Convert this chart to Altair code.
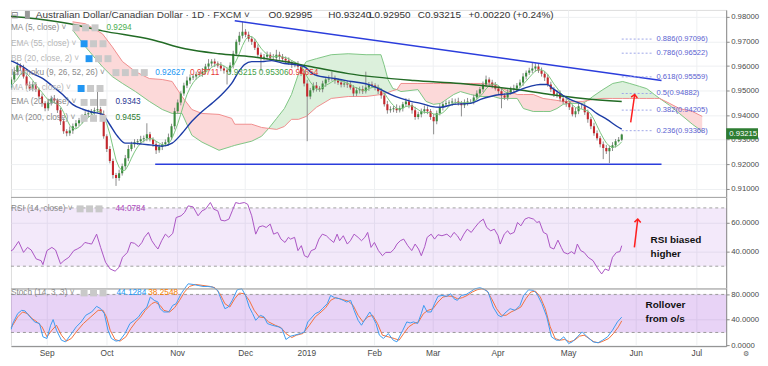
import altair as alt
import pandas as pd

# ------------------------------------------------------------------ data
close = [
    0.9497, 0.9513, 0.9545, 0.9577, 0.9602, 0.9594, 0.9557, 0.9521, 0.9509, 0.9525,
    0.9505, 0.9476, 0.9448, 0.9428, 0.9452, 0.9468, 0.9460, 0.9420, 0.9375, 0.9334,
    0.9326, 0.9338, 0.9355, 0.9367, 0.9379, 0.9395, 0.9404, 0.9408, 0.9416, 0.9420,
    0.9424, 0.9404, 0.9314, 0.9262, 0.9213, 0.9156, 0.9144, 0.9164, 0.9192, 0.9225,
    0.9262, 0.9282, 0.9290, 0.9294, 0.9302, 0.9306, 0.9322, 0.9302, 0.9282, 0.9257,
    0.9270, 0.9282, 0.9290, 0.9310, 0.9355, 0.9416, 0.9452, 0.9488, 0.9521, 0.9541,
    0.9553, 0.9557, 0.9565, 0.9569, 0.9577, 0.9598, 0.9610, 0.9618, 0.9610, 0.9602,
    0.9590, 0.9582, 0.9577, 0.9602, 0.9650, 0.9699, 0.9723, 0.9739, 0.9727, 0.9711,
    0.9699, 0.9674, 0.9646, 0.9634, 0.9638, 0.9646, 0.9634, 0.9634, 0.9646, 0.9638,
    0.9630, 0.9622, 0.9614, 0.9606, 0.9606, 0.9598, 0.9569, 0.9529, 0.9476, 0.9501,
    0.9521, 0.9509, 0.9505, 0.9529, 0.9545, 0.9549, 0.9549, 0.9541, 0.9533, 0.9525,
    0.9529, 0.9525, 0.9513, 0.9488, 0.9501, 0.9505, 0.9497, 0.9513, 0.9525, 0.9521,
    0.9513, 0.9497, 0.9480, 0.9444, 0.9420, 0.9424, 0.9428, 0.9420, 0.9428, 0.9444,
    0.9456, 0.9440, 0.9420, 0.9392, 0.9404, 0.9416, 0.9424, 0.9416, 0.9392, 0.9375,
    0.9408, 0.9432, 0.9444, 0.9448, 0.9452, 0.9456, 0.9456, 0.9448, 0.9440, 0.9452,
    0.9456, 0.9456, 0.9472, 0.9488, 0.9505, 0.9525, 0.9545, 0.9533, 0.9521, 0.9509,
    0.9497, 0.9480, 0.9472, 0.9492, 0.9505, 0.9509, 0.9521, 0.9533, 0.9557, 0.9573,
    0.9582, 0.9590, 0.9598, 0.9582, 0.9569, 0.9553, 0.9525, 0.9505, 0.9484, 0.9488,
    0.9468, 0.9456, 0.9448, 0.9432, 0.9404, 0.9416, 0.9436, 0.9436, 0.9412, 0.9383,
    0.9355, 0.9326, 0.9306, 0.9282, 0.9266, 0.9253, 0.9266, 0.9278, 0.9294, 0.9300,
    0.93215]

# wick lengths in pips (0.0001)
up_wick = [
    12, 15, 10, 18, 14, 9, 11, 8, 16, 13, 10, 7, 12, 9, 15, 11, 14, 8, 10, 12,
    9, 16, 11, 13, 10, 8, 12, 14, 9, 11, 73, 10, 15, 8, 12, 10, 9, 14, 11, 13,
    16, 10, 12, 9, 14, 11, 45, 10, 8, 13, 12, 9, 11, 15, 10, 14, 12, 9, 11, 16,
    13, 10, 12, 9, 15, 11, 18, 10, 12, 9, 14, 11, 10, 13, 12, 9, 16, 40, 11, 13,
    10, 12, 14, 9, 11, 13, 10, 15, 20, 12, 11, 9, 13, 10, 12, 14, 9, 11, 15, 10,
    12, 14, 9, 11, 10, 13, 28, 12, 9, 11, 14, 10, 12, 9, 13, 11, 15, 64, 10, 12,
    9, 11, 13, 10, 14, 12, 9, 16, 11, 10, 13, 12, 9, 14, 10, 11, 15, 12, 9, 13,
    11, 14, 10, 12, 9, 13, 11, 15, 10, 12, 14, 9, 11, 13, 10, 12, 16, 9, 11, 14,
    10, 12, 9, 13, 11, 15, 10, 12, 14, 9, 11, 24, 13, 10, 12, 9, 14, 11, 10, 13,
    12, 9, 15, 11, 10, 14, 12, 9, 13, 11, 10, 14, 12, 9, 11, 13, 10, 12, 9, 11,
    3]
dn_wick = [
    10, 13, 9, 11, 15, 12, 8, 14, 10, 12, 11, 9, 14, 12, 10, 13, 9, 11, 15, 10,
    12, 10, 14, 9, 11, 13, 10, 12, 9, 14, 11, 13, 10, 12, 9, 14, 32, 11, 10, 13,
    12, 9, 14, 11, 10, 13, 12, 9, 11, 15, 10, 12, 9, 14, 11, 13, 10, 12, 9, 11,
    14, 10, 12, 9, 13, 11, 10, 12, 14, 9, 11, 13, 52, 10, 12, 9, 14, 11, 10, 12,
    13, 9, 11, 55, 10, 12, 14, 9, 11, 13, 10, 12, 9, 14, 11, 13, 10, 12, 182, 11,
    9, 13, 10, 12, 14, 11, 9, 13, 10, 12, 11, 14, 9, 12, 10, 13, 11, 9, 14, 10,
    12, 11, 13, 9, 14, 10, 12, 11, 9, 13, 10, 12, 14, 11, 9, 13, 10, 12, 11, 53,
    12, 9, 13, 10, 11, 14, 12, 9, 45, 11, 13, 10, 12, 9, 14, 11, 10, 13, 12, 9,
    11, 52, 10, 12, 9, 13, 11, 10, 14, 12, 9, 11, 13, 10, 12, 14, 9, 11, 10, 13,
    12, 10, 14, 11, 9, 13, 12, 10, 11, 14, 12, 10, 9, 13, 45, 11, 48, 12, 10, 5,
    5]

# (bar index, value)
ema20 = [(0, 0.9630), (2.6, 0.9618), (5.8, 0.9597), (9.0, 0.9569), (12.3, 0.9549), (15.5, 0.9517),
         (18.7, 0.9484), (21.9, 0.9444), (25.2, 0.9424), (28.4, 0.9412), (31.6, 0.9403), (33.9, 0.9363),
         (36.5, 0.9314), (39.0, 0.9286), (41.3, 0.9286), (44.5, 0.9282), (47.7, 0.9278), (51.0, 0.9274),
         (54.2, 0.9286), (57.4, 0.9326), (60.6, 0.9375), (63.9, 0.9415), (67.1, 0.9448), (70.3, 0.9484),
         (73.5, 0.9529), (75.8, 0.9577), (77.7, 0.9606), (80.0, 0.9618), (83.2, 0.9618), (86.5, 0.9622),
         (90.6, 0.9610), (93.9, 0.9606), (97.1, 0.9597), (100.3, 0.9565), (106.8, 0.9549), (112.3, 0.9537),
         (117.7, 0.9525), (121.9, 0.9504), (125.2, 0.9484), (128.4, 0.9468), (131.6, 0.9456), (134.8, 0.9448),
         (138.1, 0.9436), (141.3, 0.9432), (145.5, 0.9444), (151.0, 0.9448), (154.2, 0.9464), (157.4, 0.9476),
         (160.6, 0.9484), (163.9, 0.9488), (167.1, 0.9504), (170.3, 0.9517), (173.5, 0.9525), (175.8, 0.9525),
         (177.7, 0.9508), (180.0, 0.9488), (183.2, 0.9464), (186.5, 0.9448), (189.7, 0.9428), (191.9, 0.9407),
         (195.2, 0.9383), (198.4, 0.9355), (200.0, 0.9343)]

ma200 = [(0, 0.9804), (10.0, 0.9792), (21.0, 0.9772), (31.6, 0.9743), (47.7, 0.9707), (58.4, 0.9670),
         (69.4, 0.9650), (80.0, 0.9638), (90.6, 0.9618), (99.4, 0.9597), (111.3, 0.9569), (132.6, 0.9541),
         (147.7, 0.9529), (166.1, 0.9504), (176.8, 0.9484), (187.4, 0.9468), (200.0, 0.9456)]

# Ichimoku cloud: (bar index, leading span A, leading span B)
cloud = [(21.9, 0.9747, 0.9780), (26.1, 0.9678, 0.9772), (31.6, 0.9597, 0.9731), (34.8, 0.9557, 0.9678),
         (38.1, 0.9529, 0.9618), (42.3, 0.9496, 0.9577), (46.8, 0.9456, 0.9549), (51.0, 0.9423, 0.9545),
         (54.2, 0.9407, 0.9537), (57.4, 0.9407, 0.9476), (60.6, 0.9318, 0.9423), (63.9, 0.9290, 0.9407),
         (69.4, 0.9257, 0.9403), (73.5, 0.9273, 0.9387), (74.5, 0.9277, 0.9363), (80.0, 0.9294, 0.9363),
         (83.2, 0.9314, 0.9350), (85.5, 0.9346, 0.9346), (88.1, 0.9387, 0.9342), (90.6, 0.9427, 0.9354),
         (92.9, 0.9484, 0.9383), (95.2, 0.9569, 0.9383), (97.7, 0.9618, 0.9395), (101.0, 0.9630, 0.9432),
         (105.8, 0.9646, 0.9468), (111.3, 0.9650, 0.9476), (117.1, 0.9646, 0.9476), (121.9, 0.9646, 0.9484),
         (122.9, 0.9606, 0.9488), (124.2, 0.9545, 0.9492), (125.8, 0.9508, 0.9500), (127.1, 0.9504, 0.9504),
         (128.4, 0.9496, 0.9529), (133.9, 0.9504, 0.9529), (136.5, 0.9456, 0.9529), (139.0, 0.9444, 0.9529),
         (141.3, 0.9448, 0.9529), (145.5, 0.9484, 0.9529), (147.7, 0.9496, 0.9529), (151.0, 0.9484, 0.9529),
         (154.2, 0.9476, 0.9529), (158.4, 0.9476, 0.9525), (160.6, 0.9468, 0.9512), (166.1, 0.9468, 0.9484),
         (168.1, 0.9427, 0.9484), (171.3, 0.9415, 0.9484), (174.5, 0.9415, 0.9468), (176.8, 0.9415, 0.9464),
         (179.0, 0.9427, 0.9460), (181.0, 0.9444, 0.9456), (183.2, 0.9448, 0.9456), (187.4, 0.9448, 0.9456),
         (189.0, 0.9460, 0.9460), (190.6, 0.9476, 0.9464), (193.9, 0.9504, 0.9468), (197.1, 0.9529, 0.9468),
         (200.3, 0.9537, 0.9468), (202.6, 0.9529, 0.9468), (205.8, 0.9517, 0.9468), (208.1, 0.9508, 0.9468),
         (210.6, 0.9484, 0.9468), (212.3, 0.9468, 0.9468), (215.5, 0.9440, 0.9448), (218.7, 0.9407, 0.9427),
         (222.9, 0.9363, 0.9415), (226.1, 0.9334, 0.9395)]

rsi = [(0, 30.4), (1.0, 39.5), (2.5, 41.1), (4.4, 47.0), (6.0, 39.5), (7.3, 42.9), (8.5, 41.1), (10.1, 35.0),
       (11.7, 33.8), (12.3, 31.1), (13.6, 40.7), (15.2, 42.9), (16.4, 41.1), (18.0, 31.6), (19.1, 33.8),
       (20.7, 36.1), (22.3, 40.7), (23.4, 41.8), (24.7, 43.4), (25.9, 46.3), (27.0, 45.7), (28.1, 45.2),
       (29.7, 52.0), (31.0, 42.9), (32.6, 32.7), (34.1, 28.1), (35.7, 26.6), (37.0, 29.3), (38.1, 36.1),
       (39.7, 39.5), (40.8, 46.3), (42.0, 45.7), (43.3, 43.4), (44.4, 46.3), (45.2, 49.8), (46.5, 53.2),
       (47.6, 47.5), (48.7, 44.1), (49.6, 41.8), (50.8, 47.5), (52.0, 52.0), (53.1, 49.8), (54.4, 52.5),
       (55.5, 63.4), (57.1, 64.6), (58.2, 66.8), (59.4, 71.4), (61.0, 70.7), (62.6, 64.6), (63.9, 68.0),
       (65.0, 69.1), (66.6, 73.7), (67.7, 69.1), (69.0, 68.0), (70.0, 61.6), (71.3, 61.1), (72.6, 62.3),
       (73.7, 68.0), (74.8, 73.7), (76.0, 73.0), (77.6, 73.7), (78.7, 72.5), (80.0, 64.6), (81.3, 52.0),
       (82.4, 57.0), (83.6, 57.7), (84.7, 56.6), (86.0, 58.9), (87.1, 52.0), (88.4, 53.2), (89.5, 48.6),
       (90.8, 46.3), (91.9, 49.8), (92.6, 48.6), (93.9, 49.8), (95.0, 40.7), (96.1, 44.1), (97.1, 37.2),
       (98.2, 36.1), (99.3, 40.7), (100.6, 41.8), (101.8, 48.6), (102.9, 52.0), (104.2, 50.9), (105.3, 48.6),
       (106.6, 46.3), (107.7, 52.0), (108.5, 47.5), (109.7, 50.9), (111.0, 45.2), (112.0, 47.5), (113.2, 52.0),
       (114.5, 49.8), (115.6, 47.5), (116.7, 49.8), (117.6, 53.2), (118.7, 42.9), (119.8, 46.3), (121.1, 40.7),
       (122.4, 37.2), (123.5, 39.5), (125.1, 39.5), (126.2, 41.8), (127.1, 45.2), (128.2, 47.5), (129.3, 48.6),
       (130.6, 44.1), (131.9, 40.7), (133.0, 45.2), (134.1, 41.8), (135.0, 37.2), (136.1, 43.4), (136.9, 49.8),
       (138.2, 52.0), (139.3, 48.6), (140.4, 51.6), (141.7, 50.9), (143.3, 52.0), (144.5, 49.8), (145.6, 53.2),
       (146.7, 50.9), (147.7, 47.5), (148.8, 52.0), (149.9, 55.4), (151.2, 53.2), (152.4, 56.6), (153.7, 60.0),
       (155.1, 62.3), (156.2, 56.6), (157.5, 54.3), (158.7, 55.4), (159.9, 50.9), (160.6, 45.2), (161.9, 52.0),
       (163.0, 54.3), (163.8, 52.0), (165.1, 53.2), (166.2, 60.0), (167.3, 57.7), (168.6, 62.3), (169.8, 63.4),
       (171.4, 62.3), (172.5, 60.0), (173.3, 60.7), (174.6, 53.2), (175.7, 52.0), (176.8, 42.9), (178.0, 41.8),
       (179.3, 47.9), (180.4, 42.9), (181.2, 39.5), (182.5, 38.4), (183.7, 40.0), (184.7, 38.4), (185.6, 45.2),
       (186.7, 40.7), (187.8, 39.5), (189.1, 36.1), (190.7, 33.8), (192.3, 28.1), (193.5, 24.7), (194.6, 28.1),
       (195.8, 27.0), (197.0, 36.1), (198.3, 39.5), (199.4, 40.0), (200.0, 44.08)]

stoch_k = [(2.0, 25.0), (2.5, 34.0), (4.1, 49.7), (5.4, 54.9), (6.5, 53.9), (8.1, 44.5), (9.6, 36.6),
           (11.2, 34.0), (12.3, 13.1), (13.6, 10.5), (14.8, 31.4), (15.6, 40.3), (16.7, 23.5), (18.3, 7.8),
           (19.6, 5.2), (21.2, 15.7), (23.1, 28.8), (24.7, 36.6), (26.2, 47.1), (28.1, 52.3), (29.7, 61.2),
           (31.0, 57.5), (32.2, 49.7), (33.4, 23.5), (34.5, 10.5), (36.0, 6.3), (37.3, 7.8), (38.9, 18.3),
           (40.5, 34.0), (42.0, 39.2), (43.3, 44.5), (44.4, 52.3), (46.0, 60.1), (47.1, 75.8), (48.4, 70.6),
           (49.6, 68.0), (50.3, 57.5), (51.5, 52.3), (53.1, 52.3), (54.4, 62.7), (55.5, 65.4), (57.1, 81.0),
           (58.2, 88.9), (59.4, 96.7), (61.0, 95.7), (62.6, 94.1), (64.2, 92.5), (65.8, 92.5), (67.4, 91.5),
           (69.0, 86.3), (70.2, 70.6), (71.3, 57.5), (72.4, 60.1), (73.7, 70.6), (75.3, 87.3), (76.8, 88.9),
           (78.0, 78.4), (79.2, 60.1), (80.3, 49.7), (81.3, 39.2), (82.8, 47.1), (84.0, 44.5), (85.1, 34.0),
           (86.6, 31.4), (88.7, 28.8), (89.8, 26.1), (91.1, 8.9), (92.6, 14.1), (93.9, 15.7), (95.8, 18.3),
           (97.1, 20.9), (98.2, 36.6), (100.6, 49.7), (101.8, 52.3), (102.9, 57.5), (104.5, 65.4), (105.6, 78.4),
           (106.9, 74.8), (108.5, 73.2), (109.7, 70.6), (110.8, 68.0), (112.1, 70.6), (113.2, 54.9), (114.5, 39.2),
           (115.6, 31.4), (116.7, 40.3), (118.3, 52.3), (119.5, 41.8), (120.3, 34.0), (121.4, 15.7), (122.7, 10.5),
           (124.3, 18.3), (125.9, 7.8), (127.1, 5.2), (129.0, 23.5), (130.3, 36.6), (131.4, 35.0), (132.5, 36.6),
           (133.8, 34.0), (135.0, 49.7), (135.8, 62.7), (136.9, 52.3), (138.2, 52.3), (139.3, 65.4), (140.4, 76.9),
           (141.7, 78.4), (143.3, 76.9), (144.5, 81.0), (145.6, 73.2), (146.7, 70.6), (148.0, 78.4), (149.6, 80.0),
           (150.8, 83.7), (152.4, 88.9), (154.0, 90.5), (155.1, 88.9), (156.7, 83.7), (158.3, 60.1), (159.9, 47.1),
           (161.0, 44.5), (162.5, 52.3), (163.8, 57.5), (165.4, 54.9), (167.0, 62.7), (168.2, 78.4), (169.8, 87.3),
           (171.4, 86.3), (172.5, 81.0), (174.1, 65.4), (175.7, 44.5), (177.2, 13.1), (178.8, 7.8), (179.9, 7.8),
           (181.2, 13.1), (182.8, 2.6), (184.0, 5.2), (185.6, 13.1), (187.2, 20.9), (188.8, 13.1), (190.7, 5.2),
           (192.3, 3.7), (193.8, 7.8), (195.4, 13.1), (197.0, 23.5), (198.6, 36.6), (200.0, 44.13)]

stoch_d = [(2.0, 28.0), (2.5, 31.4), (4.1, 44.5), (5.7, 52.3), (7.3, 49.7), (8.8, 41.8), (10.4, 36.6),
           (12.0, 28.8), (13.6, 13.1), (15.2, 23.5), (16.7, 31.4), (18.3, 15.7), (19.9, 6.3), (21.5, 10.5),
           (23.1, 20.9), (25.4, 34.0), (27.8, 44.5), (30.2, 54.9), (31.8, 54.9), (32.9, 44.5), (34.1, 23.5),
           (35.7, 8.9), (37.3, 6.3), (39.2, 13.1), (40.8, 26.1), (42.4, 36.6), (44.0, 44.5), (45.5, 54.9),
           (47.6, 65.4), (48.7, 68.0), (50.3, 62.7), (51.5, 54.9), (53.4, 52.3), (55.0, 59.1), (56.6, 70.6),
           (58.2, 83.7), (59.8, 92.5), (61.8, 95.7), (64.2, 94.1), (66.6, 92.5), (68.1, 90.5), (69.7, 81.0),
           (71.3, 65.4), (72.9, 60.1), (74.5, 73.2), (76.0, 82.1), (77.6, 81.0), (79.2, 70.6), (80.8, 54.9),
           (82.4, 44.5), (84.0, 43.4), (85.5, 36.6), (87.6, 31.4), (89.5, 27.7), (91.1, 18.3), (93.0, 12.0),
           (94.5, 15.7), (96.6, 18.3), (98.7, 31.4), (100.6, 44.5), (102.5, 52.3), (104.0, 59.1), (105.6, 70.6),
           (107.2, 74.8), (109.3, 72.2), (111.3, 69.5), (112.9, 62.7), (114.5, 47.1), (116.1, 36.6), (117.6, 44.5),
           (119.2, 47.1), (120.8, 34.0), (122.4, 15.7), (124.3, 13.1), (126.2, 10.5), (127.8, 7.8), (129.3, 18.3),
           (130.9, 28.8), (132.5, 34.0), (134.1, 36.6), (135.7, 49.7), (137.2, 54.9), (138.8, 57.5), (140.4, 68.0),
           (142.0, 75.8), (143.6, 77.4), (145.2, 76.9), (146.7, 73.2), (148.3, 74.8), (149.9, 78.4), (151.5, 83.7),
           (153.1, 87.3), (154.6, 88.9), (156.2, 86.3), (157.8, 73.2), (159.4, 57.5), (161.0, 47.1), (162.5, 47.1),
           (164.1, 52.3), (165.7, 55.9), (167.3, 60.1), (168.9, 73.2), (170.5, 83.7), (172.0, 85.2), (173.6, 75.8),
           (175.2, 57.5), (176.8, 28.8), (178.4, 10.5), (179.9, 7.8), (181.5, 8.9), (183.1, 5.2), (184.7, 7.8),
           (186.3, 14.1), (187.8, 15.7), (189.4, 10.5), (191.0, 5.2), (192.6, 3.7), (194.2, 6.8), (195.8, 10.5),
           (197.3, 18.3), (198.9, 28.8), (200.0, 38.25)]

month_pos = [13.5, 32.9, 55.8, 77.9, 97.7, 119.7, 138.7, 159.7, 182.6, 204.5, 224.2]
month_lab = ["Sep", "Oct", "Nov", "Dec", "2019", "Feb", "Mar", "Apr", "May", "Jun", "Jul"]
price_ticks = [0.91, 0.92, 0.93, 0.94, 0.95, 0.96, 0.97, 0.98]

fib_ratio = ["0.886", "0.786", "0.618", "0.5", "0.382", "0.236"]
fib_price = [0.97096, 0.96522, 0.95559, 0.94882, 0.94205, 0.93368]
fib_from, fib_to = 200.0, 210.0

trend_lines = [("res", 74.5, 0.9784), ("res", 212.9, 0.9541), ("sup", 48.7, 0.9200), ("sup", 212.9, 0.9200)]
arrow_main = [(202.9, 0.93707), (204.2, 0.94840)]
arrow_rsi = [(204.1, 42.9), (205.2, 62.3)]
last_close = 0.93215

# ------------------------------------------------------------------ style
W = 719
H_MAIN, H_RSI, H_STO = 188, 92, 58
FONT = "Liberation Sans"
GRID = "#eef0f2"
AXC = "#8a8a8a"
TXT = "#4a4a4a"
UP, DOWN, WICK = "#3b8a3e", "#c4272d", "#8c8c8c"
BLUE = "#2b3ddc"
RED = "#ff1f1f"
AXFS = 7.8

xscale = alt.Scale(domain=[1.935, 233.87], nice=False, zero=False)
DUMMY = pd.DataFrame({"d": [0]})

expr = "''"
for pos, lab in zip(reversed(month_pos), reversed(month_lab)):
    expr = f"abs(datum.value - {pos}) < 0.01 ? '{lab}' : ({expr})"


def xaxis(labels):
    if labels:
        return alt.Axis(values=month_pos, labelExpr=expr, grid=True, gridColor=GRID, ticks=False,
                        domain=True, domainColor=AXC, labelFont=FONT, labelFontSize=8.4,
                        labelColor=TXT, labelPadding=2, labelFlush=False, labelOverlap=False, title=None)
    return alt.Axis(values=month_pos, labels=False, ticks=False, domain=False, grid=True,
                    gridColor=GRID, title=None)


def yaxis(values, fmt):
    return alt.Axis(orient="right", values=values, format=fmt, grid=True, gridColor=GRID, ticks=True,
                    tickSize=3, tickColor=AXC, domain=True, domainColor=AXC, labelFont=FONT,
                    labelFontSize=AXFS, labelColor=TXT, labelPadding=1.5, title=None,
                    labelOverlap=False, labelFlush=False)


def X(f, xa):
    return alt.X(f, type="quantitative", scale=xscale, axis=xa)


def Y(f, ys, ya):
    return alt.Y(f, type="quantitative", scale=ys, axis=ya)


def txt(x, y, s, size=8.3, color="#8a8a8a", weight="normal", align="left"):
    return alt.Chart(DUMMY).mark_text(text=s, align=align, baseline="middle", fontSize=size,
                                      color=color, fontWeight=weight, font=FONT).encode(
        x=alt.value(x), y=alt.value(y))


def rect(x0, x1, y0, y1, color):
    return alt.Chart(DUMMY).mark_rect(color=color).encode(
        x=alt.value(x0), x2=alt.value(x1), y=alt.value(y0), y2=alt.value(y1))


def hrule(y, color):
    return alt.Chart(DUMMY).mark_rule(color=color, strokeWidth=1).encode(
        x=alt.value(0), x2=alt.value(W), y=alt.value(y))


def icons(x0, y, n, hidden=False):
    out = []
    for k in range(n):
        c = "#2196f3" if (hidden and k == 0) else "#c9c9c9"
        out.append(rect(x0 + k * 9.5, x0 + k * 9.5 + 7, y - 3.5, y + 3.5, c))
    return out


# ------------------------------------------------------------------ tables
opens = [close[0]] + close[:-1]
cdf = pd.DataFrame({
    "i": list(range(len(close))),
    "open": opens,
    "close": close,
    "high": [max(o, c) + u * 1e-4 for o, c, u in zip(opens, close, up_wick)],
    "low": [min(o, c) - d * 1e-4 for o, c, d in zip(opens, close, dn_wick)],
})
cdf["dir"] = ["up" if c >= o else "down" for o, c in zip(cdf["open"], cdf["close"])]

cloud_df = pd.DataFrame(cloud, columns=["i", "a", "b"])
fill_rows, g, cur = [], -1, None
for k in range(len(cloud) - 1):
    kind = "bull" if cloud[k][1] + cloud[k + 1][1] >= cloud[k][2] + cloud[k + 1][2] else "bear"
    if kind != cur:
        g += 1
        cur = kind
        fill_rows.append(dict(g=g, kind=kind, i=cloud[k][0], a=cloud[k][1], b=cloud[k][2]))
    fill_rows.append(dict(g=g, kind=kind, i=cloud[k + 1][0], a=cloud[k + 1][1], b=cloud[k + 1][2]))
fill_df = pd.DataFrame(fill_rows)

ema_df = pd.DataFrame(ema20, columns=["i", "v"])
ma200_df = pd.DataFrame(ma200, columns=["i", "v"])
trend_df = pd.DataFrame(trend_lines, columns=["name", "i", "v"])
fib_df = pd.DataFrame({"price": fib_price,
                       "label": [f"{r}({p:.5f})" for r, p in zip(fib_ratio, fib_price)],
                       "i0": fib_from, "i1": fib_to})
rsi_df = pd.DataFrame(rsi, columns=["i", "v"])
k_df = pd.DataFrame(stoch_k, columns=["i", "v"])
d_df = pd.DataFrame(stoch_d, columns=["i", "v"])

# ------------------------------------------------------------------ main panel
mxa = xaxis(False)
mys = alt.Scale(domain=[0.90672, 0.98283], nice=False, zero=False)
mya = yaxis(price_ticks, ".5f")

layers = []
for kind, col in (("bull", "#dcf0dc"), ("bear", "#fcd9d9")):
    layers.append(alt.Chart(fill_df[fill_df.kind == kind]).mark_area(color=col, opacity=1, clip=True).encode(
        x=X("i", mxa), y=Y("a", mys, mya), y2=alt.Y2("b"), detail="g:N"))
layers.append(alt.Chart(cloud_df).mark_line(color="#7fc684", strokeWidth=1, clip=True).encode(
    x=X("i", mxa), y=Y("a", mys, mya)))
layers.append(alt.Chart(cloud_df).mark_line(color="#f08e8e", strokeWidth=1, clip=True).encode(
    x=X("i", mxa), y=Y("b", mys, mya)))
layers.append(alt.Chart(cdf).mark_rule(color=WICK, strokeWidth=1, clip=True).encode(
    x=X("i", mxa), y=Y("low", mys, mya), y2=alt.Y2("high")))
for d, col in (("up", UP), ("down", DOWN)):
    layers.append(alt.Chart(cdf[cdf.dir == d]).mark_rule(color=col, strokeWidth=2.1, clip=True).encode(
        x=X("i", mxa), y=Y("open", mys, mya), y2=alt.Y2("close")))
layers.append(alt.Chart(cdf).transform_window(
    ma5="mean(close)", frame=[-4, 0], sort=[alt.SortField("i")]).mark_line(
    color="#7cc57f", strokeWidth=1, clip=True).encode(x=X("i", mxa), y=Y("ma5", mys, mya)))
layers.append(alt.Chart(ma200_df).mark_line(color="#226b25", strokeWidth=1.5, clip=True,
                                            interpolate="monotone").encode(
    x=X("i", mxa), y=Y("v", mys, mya)))
layers.append(alt.Chart(ema_df).mark_line(color="#1c3ca6", strokeWidth=1.4, clip=True,
                                          interpolate="monotone").encode(
    x=X("i", mxa), y=Y("v", mys, mya)))
layers.append(alt.Chart(trend_df).mark_line(color=BLUE, strokeWidth=1.5, clip=True).encode(
    x=X("i", mxa), y=Y("v", mys, mya), detail="name:N"))
layers.append(alt.Chart(fib_df).mark_rule(color="#9ea6e8", strokeDash=[2, 2], strokeWidth=1).encode(
    x=X("i0", mxa), x2=alt.X2("i1"), y=Y("price", mys, mya)))
layers.append(alt.Chart(fib_df).mark_text(align="left", baseline="middle", dx=4, fontSize=7.6,
                                          color="#5a62d0", font=FONT).encode(
    x=X("i1", mxa), y=Y("price", mys, mya), text="label:N"))
am = pd.DataFrame(arrow_main, columns=["i", "v"])
layers.append(alt.Chart(am).mark_line(color=RED, strokeWidth=1.5).encode(
    x=X("i", mxa), y=Y("v", mys, mya)))
layers.append(alt.Chart(am.tail(1)).mark_point(shape="M-1,1L0,0L1,1", filled=False, size=40,
                                               strokeWidth=1.5, color=RED, opacity=1, angle=8).encode(
    x=X("i", mxa), y=Y("v", mys, mya)))

# header
layers.append(txt(4.5, 5.5, "⊟", size=9.5, color="#777", align="center"))
layers.append(rect(14, 19, 1, 9, "#9a9a9a"))
layers.append(txt(25, 5.5, "Australian Dollar/Canadian Dollar · 1D · FXCM ˅", size=10, color="#3c3c3c"))
for xx, s in ((259, "O0.92995"), (319, "H0.93240"), (360, "L0.92950"), (409, "C0.93215"),
              (460, "+0.00220 (+0.24%)")):
    layers.append(txt(xx, 5.5, s, size=10, color="#333"))

rows = [(18, "MA (5, close) ˅", "#8a8a8a", 62, 3, False),
        (34, "EMA (55, close) ˅", "#b5b5b5", 70, 3, True),
        (49, "BB (20, close, 2) ˅", "#b5b5b5", 75, 3, True),
        (63, "Ichimoku (9, 26, 52, 26) ˅", "#8a8a8a", 102, 4, False),
        (79, "MA (50, close) ˅", "#b5b5b5", 67, 3, True),
        (93, "EMA (20, close) ˅", "#8a8a8a", 70, 3, False),
        (109, "MA (200, close) ˅", "#8a8a8a", 70, 3, False)]
for yy, s, col, ix, n, hid in rows:
    layers.append(txt(0, yy, s, color=col))
    layers += icons(ix, yy, n, hid)
for yy, xx, s, col in ((18, 96, "0.9294", "#4caf50"), (63, 145, "0.92627", "#2196f3"),
                       (63, 180, "0.93711", "#e53935"), (63, 217, "0.93215", "#43a047"),
                       (63, 249, "0.95306", "#43a047"), (63, 279, "0.94654", "#e53935"),
                       (93, 105, "0.9343", "#283593"), (109, 105, "0.9455", "#2e7d32")):
    layers.append(txt(xx, yy, s, size=8.3, color=col))

# last price tag
layers.append(rect(719, 751, 119, 130, "#2e7d32"))
layers.append(txt(722, 124.5, f"{last_close:.5f}", size=AXFS, color="white"))

main = alt.layer(*layers).properties(width=W, height=H_MAIN)

# ------------------------------------------------------------------ RSI panel
rxa = xaxis(False)
rys = alt.Scale(domain=[14.74, 77.54], nice=False, zero=False)
rya = yaxis([40, 60], ".4f")
r_layers = [
    alt.Chart(pd.DataFrame({"lo": [30], "hi": [70]})).mark_rect(color="#8e24d0", opacity=0.1).encode(
        x=alt.value(0), x2=alt.value(W), y=Y("hi", rys, rya), y2=alt.Y2("lo")),
    alt.Chart(pd.DataFrame({"v": [30, 70]})).mark_rule(color="#a0a0a0", strokeDash=[3, 3]).encode(
        x=alt.value(0), x2=alt.value(W), y=Y("v", rys, rya)),
    alt.Chart(rsi_df).mark_line(color="#aa55c4", strokeWidth=1, clip=True).encode(
        x=X("i", rxa), y=Y("v", rys, rya)),
]
ar = pd.DataFrame(arrow_rsi, columns=["i", "v"])
r_layers.append(alt.Chart(ar).mark_line(color=RED, strokeWidth=1.5).encode(
    x=X("i", rxa), y=Y("v", rys, rya)))
r_layers.append(alt.Chart(ar.tail(1)).mark_point(shape="M-1,1L0,0L1,1", filled=False, size=40,
                                                 strokeWidth=1.5, color=RED, opacity=1, angle=3).encode(
    x=X("i", rxa), y=Y("v", rys, rya)))
r_layers.append(hrule(0.5, "#a6a6a6"))
r_layers.append(txt(0, 12, "RSI (14, close) ˅"))
r_layers += icons(66, 12, 3)
r_layers.append(txt(105, 12, "44.0784", color="#ab47bc"))
r_layers.append(txt(643, 43, "RSI biased", size=10, color="#111", weight="bold"))
r_layers.append(txt(643, 57, "higher", size=10, color="#111", weight="bold"))
rsi_panel = alt.layer(*r_layers).properties(width=W, height=H_RSI)

# ------------------------------------------------------------------ Stoch panel
sxa = xaxis(True)
sys_ = alt.Scale(domain=[-1.57, 89.41], nice=False, zero=False)
sya = yaxis([0, 40, 80], ".4f")
s_layers = [
    alt.Chart(pd.DataFrame({"lo": [20], "hi": [80]})).mark_rect(color="#8e24d0", opacity=0.2).encode(
        x=alt.value(0), x2=alt.value(W), y=Y("hi", sys_, sya), y2=alt.Y2("lo")),
    alt.Chart(pd.DataFrame({"v": [20, 80]})).mark_rule(color="#9a9a9a", strokeDash=[3, 3]).encode(
        x=alt.value(0), x2=alt.value(W), y=Y("v", sys_, sya)),
    alt.Chart(d_df).mark_line(color="#f2713d", strokeWidth=1).encode(
        x=X("i", sxa), y=Y("v", sys_, sya)),
    alt.Chart(k_df).mark_line(color="#3d9bf0", strokeWidth=1).encode(
        x=X("i", sxa), y=Y("v", sys_, sya)),
]
s_layers.append(hrule(0.5, "#a6a6a6"))
s_layers.append(txt(0, 4.5, "Stoch (14, 3, 3) ˅"))
s_layers += icons(70, 4.5, 3)
s_layers.append(txt(106, 4.5, "44.1284", color="#2196f3"))
s_layers.append(txt(138, 4.5, "38.2548", color="#f57c00"))
s_layers.append(txt(638, 17, "Rollover", size=10, color="#111", weight="bold"))
s_layers.append(txt(638, 31, "from o/s", size=10, color="#111", weight="bold"))
s_layers.append(txt(739, 66, "⚙", size=7.5, color="#666", align="center"))
sto_panel = alt.layer(*s_layers).properties(width=W, height=H_STO)

chart = alt.vconcat(main, rsi_panel, sto_panel, spacing=0, bounds="flush").properties(
    padding=0).configure_view(stroke=None).configure(font=FONT)

chart.save("out.html", embed_options={"renderer": "svg", "actions": False})
